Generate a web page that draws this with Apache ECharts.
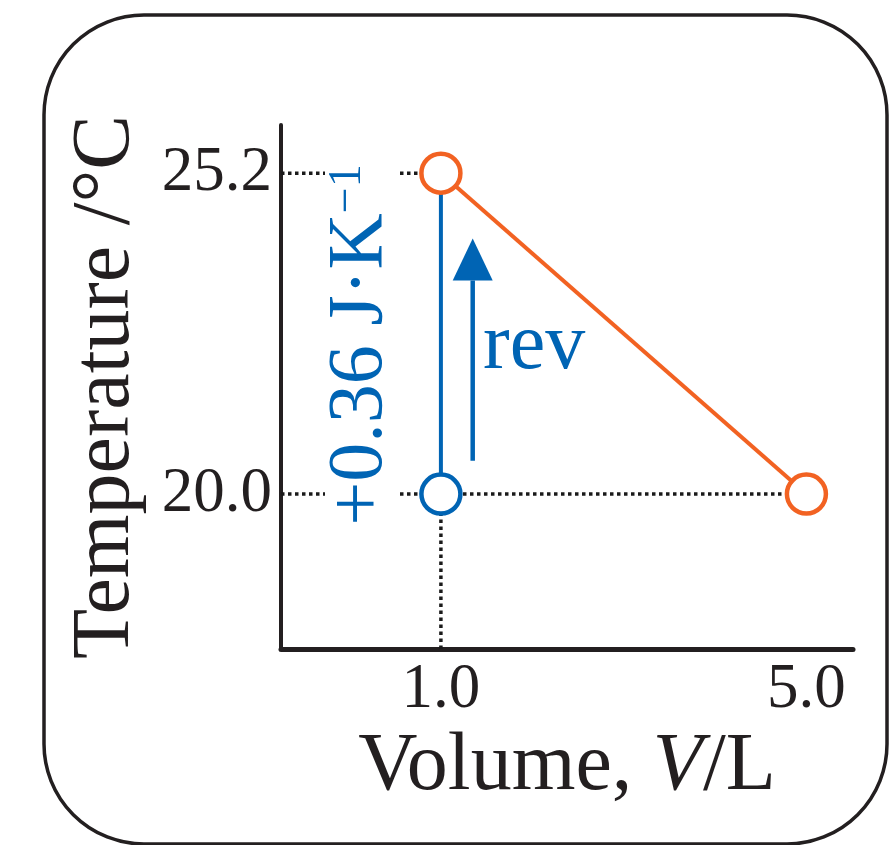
<!DOCTYPE html>
<html>
<head>
<meta charset="utf-8">
<script src="https://cdn.jsdelivr.net/npm/echarts@6/dist/echarts.min.js"></script>
<style>html,body{margin:0;padding:0;background:#fff;}#c{width:890px;height:845px;}</style>
</head>
<body>
<div id="c"></div>
<script>
// ---- data ----
const xTicks = [1.0, 5.0];
const yTicks = [20.0, 25.2];
const xRange = [-0.75, 5.51];
const yRange = [17.49, 25.98];
const reversiblePath = [[1.0, 20.0], [1.0, 25.2]];      // blue step
const irreversiblePath = [[1.0, 25.2], [5.0, 20.0]];    // orange step
const startPoint = [[1.0, 20.0]];
const orangePoints = [[1.0, 25.2], [5.0, 20.0]];
const revArrow = [[1.348, 20.54], [1.348, 23.46]];
const guideTop = [[xRange[0], 25.2], [1.0, 25.2]];
const guideBottom = [[xRange[0], 20.0], [5.0, 20.0]];
const guideVert = [[1.0, yRange[0]], [1.0, 20.0]];

const BLUE = '#0064b4';
const ORANGE = '#f26222';
const INK = '#231f20';
const FONT = '"Liberation Serif", "Times New Roman", serif';

const chart = echarts.init(document.getElementById('c'));
const dotted = { color: '#1a1a1a', width: 3.5, type: [3.5, 3.5] };
function guide(d) {
  return { type: 'line', data: d, symbol: 'none', lineStyle: dotted, z: 1, silent: true, animation: false };
}
chart.setOption({
  animation: false,
  backgroundColor: '#fff',
  grid: { left: 281, right: 37, top: 125, bottom: 196 },
  xAxis: {
    type: 'value', min: xRange[0], max: xRange[1],
    splitLine: { show: false }, axisTick: { show: false },
    axisLine: { onZero: false, lineStyle: { color: INK, width: 5 } },
    axisLabel: {
      customValues: xTicks, formatter: v => v.toFixed(1),
      color: INK, fontFamily: FONT, fontSize: 63, margin: 10
    },
    name: 'Volume, {i|V}/L', nameLocation: 'middle', nameGap: 76,
    nameTextStyle: {
      color: INK, fontFamily: FONT, fontSize: 82,
      rich: { i: { fontStyle: 'italic', color: INK, fontFamily: FONT, fontSize: 82 } }
    }
  },
  yAxis: {
    type: 'value', min: yRange[0], max: yRange[1],
    splitLine: { show: false }, axisTick: { show: false },
    axisLine: { onZero: false, lineStyle: { color: INK, width: 4 } },
    axisLabel: {
      customValues: yTicks, formatter: v => v.toFixed(1),
      color: INK, fontFamily: FONT, fontSize: 63, margin: 9
    },
    name: 'Temperature /°C', nameLocation: 'middle', nameGap: 134, nameRotate: 90,
    nameTextStyle: { color: INK, fontFamily: FONT, fontSize: 82 }
  },
  series: [
    guide(guideTop), guide(guideBottom), guide(guideVert),
    { type: 'line', data: reversiblePath, symbol: 'none', lineStyle: { color: BLUE, width: 4 }, z: 3 },
    { type: 'line', data: irreversiblePath, symbol: 'none', lineStyle: { color: ORANGE, width: 4 }, z: 3 },
    {
      type: 'line', z: 3,
      data: [
        { value: revArrow[0], symbol: 'none' },
        { value: revArrow[1], symbol: 'triangle', symbolSize: [40, 42], symbolOffset: [0, '-50%'] }
      ],
      lineStyle: { color: BLUE, width: 4.5 }, itemStyle: { color: BLUE, opacity: 1 }
    },
    {
      type: 'scatter', data: startPoint, symbol: 'circle', symbolSize: 39, z: 5,
      itemStyle: { color: '#fff', borderColor: BLUE, borderWidth: 4.5, opacity: 1 }
    },
    {
      type: 'scatter', data: orangePoints, symbol: 'circle', symbolSize: 39, z: 5,
      itemStyle: { color: '#fff', borderColor: ORANGE, borderWidth: 4.5, opacity: 1 }
    }
  ],
  graphic: [
    {
      type: 'rect', z: 0, silent: true,
      shape: { x: 44, y: 15, width: 843, height: 829, r: 100 },
      style: { fill: 'none', stroke: INK, lineWidth: 3.5 }
    },
    {
      type: 'text', z: 100, x: 361, y: 345, rotation: Math.PI / 2,
      style: {
        text: '{a|+0.36 J·K}{s|−1}',
        align: 'center', verticalAlign: 'middle',
        backgroundColor: '#fff', padding: [0, 6],
        rich: {
          a: { fontFamily: FONT, fontSize: 78, lineHeight: 72, fill: BLUE, color: BLUE },
          s: { fontFamily: FONT, fontSize: 46, lineHeight: 46, verticalAlign: 'top', fill: BLUE, color: BLUE }
        }
      }
    },
    {
      type: 'text', z: 100, x: 483, y: 347,
      style: { text: 'rev', fontFamily: FONT, fontSize: 80, fill: BLUE, align: 'left', verticalAlign: 'middle' }
    }
  ]
});
</script>
</body>
</html>
